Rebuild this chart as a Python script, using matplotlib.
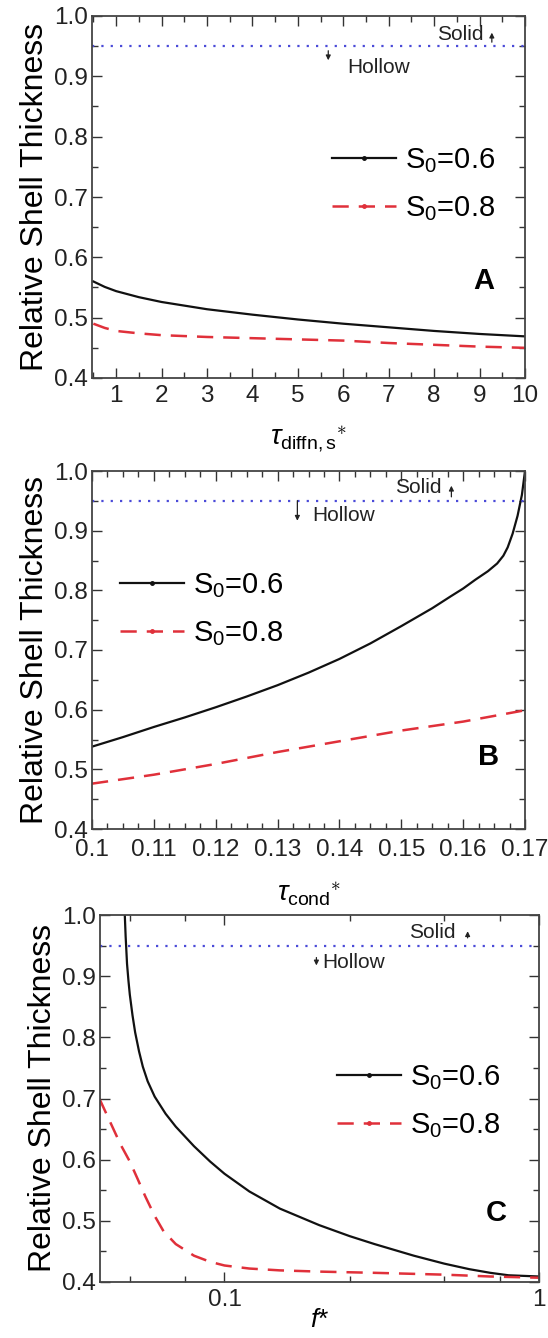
import matplotlib
matplotlib.use("Agg")
import matplotlib.pyplot as plt
from matplotlib.ticker import MultipleLocator, FixedLocator, FixedFormatter, NullFormatter

plt.rcParams['font.family'] = ['Liberation Sans', 'DejaVu Sans']
plt.rcParams['mathtext.fontset'] = 'custom'
plt.rcParams['mathtext.rm'] = 'Liberation Sans'
plt.rcParams['mathtext.it'] = 'Liberation Sans:italic'
plt.rcParams['mathtext.bf'] = 'Liberation Sans:bold'

# ---- Panel A data ----
a_x = [0.5, 0.75, 1, 1.5, 2, 3, 4, 5, 6, 7, 8, 9, 10]
a_s06 = [0.560, 0.551, 0.544, 0.534, 0.526, 0.514, 0.505, 0.497, 0.490, 0.484, 0.478, 0.473, 0.469]
a_s08 = [0.490, 0.483, 0.478, 0.474, 0.471, 0.468, 0.466, 0.464, 0.462, 0.458, 0.455, 0.452, 0.450]

# ---- Panel B data ----
b_x06 = [0.100, 0.105, 0.110, 0.115, 0.120, 0.125, 0.130, 0.135, 0.140, 0.145, 0.150,
         0.155, 0.158, 0.160, 0.162, 0.164, 0.1655, 0.1665, 0.1672, 0.168, 0.1688, 0.1695, 0.170]
b_s06 = [0.538, 0.554, 0.571, 0.587, 0.604, 0.622, 0.641, 0.662, 0.685, 0.711, 0.740,
         0.770, 0.790, 0.803, 0.818, 0.832, 0.845, 0.858, 0.872, 0.895, 0.925, 0.960, 1.000]
b_x08 = [0.100, 0.110, 0.120, 0.130, 0.140, 0.150, 0.160, 0.170]
b_s08 = [0.476, 0.491, 0.509, 0.529, 0.547, 0.565, 0.580, 0.599]

# ---- Panel C data ----
c_x06 = [0.0482, 0.0485, 0.049, 0.0495, 0.050, 0.051, 0.052, 0.0535, 0.055, 0.057, 0.060, 0.065,
         0.070, 0.080, 0.090, 0.100, 0.120, 0.150, 0.200, 0.250, 0.300, 0.400, 0.500, 0.600,
         0.700, 0.800, 1.000]
c_s06 = [1.000, 0.965, 0.920, 0.893, 0.870, 0.836, 0.808, 0.777, 0.752, 0.728, 0.703, 0.675,
         0.654, 0.622, 0.597, 0.577, 0.548, 0.520, 0.493, 0.475, 0.462, 0.443, 0.430, 0.421,
         0.415, 0.411, 0.409]
c_x08 = [0.040, 0.043, 0.0467, 0.050, 0.053, 0.056, 0.060, 0.064, 0.070, 0.080, 0.090, 0.100,
         0.120, 0.150, 0.200, 0.300, 0.500, 0.700, 1.000]
c_s08 = [0.700, 0.665, 0.625, 0.597, 0.568, 0.540, 0.508, 0.483, 0.462, 0.443, 0.433, 0.427,
         0.422, 0.419, 0.417, 0.415, 0.412, 0.409, 0.407]

threshold = 0.95
labels = ["S$_0$=0.6", "S$_0$=0.8"]
y_label = "Relative Shell Thickness"

W, H = 548, 1338
fig = plt.figure(figsize=(W / 100, H / 100), dpi=100)

def fr(l, r, t, b):
    return [l / W, 1 - b / H, (r - l) / W, (b - t) / H]

axA = fig.add_axes(fr(92, 525, 16, 378))
axB = fig.add_axes(fr(92, 525, 471, 829))
axC = fig.add_axes(fr(100, 539, 915, 1282))

blue = '#4a4ad8'
red = '#e0303a'
dash = (0, (6.5, 4))

def style(ax):
    ax.set_ylim(0.4, 1.0)
    ax.yaxis.set_major_locator(MultipleLocator(0.1))
    ax.yaxis.set_minor_locator(MultipleLocator(0.05))
    ax.tick_params(which='both', direction='in', top=True, right=True,
                   labelsize=17.5, width=1.0, color='#333333', labelcolor='#222222')
    ax.tick_params(which='major', length=7)
    ax.tick_params(which='minor', length=4)
    ax.tick_params(axis='x', which='major', pad=5)
    ax.tick_params(axis='y', which='major', pad=3)
    for s in ax.spines.values():
        s.set_linewidth(1.3)
        s.set_color('#444444')
    ax.set_ylabel(y_label, fontsize=23, labelpad=3)
    ax.yaxis.set_major_formatter(plt.FuncFormatter(lambda v, p: f"{v:.1f}"))

def draw(ax, x6, y6, x8, y8, leg_xy):
    ax.plot(x6, y6, color='#111111', lw=1.6)
    ax.plot(x8, y8, color=red, lw=1.8, ls=dash)
    ax.axhline(threshold, color=blue, lw=1.6, ls=(0, (1, 3.2)))
    h1, = ax.plot([], [], color='#111111', lw=1.6, marker='o', ms=2.5)
    h2, = ax.plot([], [], color=red, lw=1.8, ls=dash, marker='o', ms=2.5)
    ax.legend([h1, h2], labels, loc='upper left', bbox_to_anchor=leg_xy,
              frameon=False, fontsize=21, handlelength=2.2, handletextpad=0.3,
              labelspacing=0.65, borderpad=0, borderaxespad=0, numpoints=1)

arrow_kw = dict(arrowstyle='-|>', color='#222222', lw=0.9, mutation_scale=7)

# Panel A
style(axA)
draw(axA, a_x, a_s06, a_x, a_s08, (0.555, 0.64))
axA.set_xlim(0.47, 10)
axA.xaxis.set_major_locator(MultipleLocator(1))
axA.xaxis.set_minor_locator(MultipleLocator(0.5))
axA.set_xlabel(r"$\tau_{\mathrm{diffn,s}}{}^{\ast}$", fontsize=20, labelpad=12)
axA.text(8.07, 0.969, "Solid", fontsize=15, va='center', ha='left', color='#222222')
axA.annotate("", xy=(9.27, 0.977), xytext=(9.27, 0.952), arrowprops=arrow_kw)
axA.text(6.09, 0.914, "Hollow", fontsize=15, va='center', ha='left', color='#222222')
axA.annotate("", xy=(5.67, 0.922), xytext=(5.67, 0.947), arrowprops=arrow_kw)
axA.text(0.905, 0.268, "A", transform=axA.transAxes, fontsize=21, fontweight='bold',
         ha='center', va='center')

# Panel B
style(axB)
axB.tick_params(axis='x', which='major', pad=7)
draw(axB, b_x06, b_s06, b_x08, b_s08, (0.065, 0.72))
axB.set_xlim(0.1, 0.17)
axB.xaxis.set_major_locator(MultipleLocator(0.01))
axB.xaxis.set_minor_locator(MultipleLocator(0.0025))
axB.xaxis.set_major_formatter(plt.FuncFormatter(lambda v, p: "0.1" if abs(v - 0.1) < 1e-9 else f"{v:.2f}"))
axB.set_xlabel(r"$\tau_{\mathrm{cond}}{}^{\ast}$", fontsize=20, labelpad=14)
axB.text(0.149, 0.973, "Solid", fontsize=15, va='center', ha='left', color='#222222')
axB.annotate("", xy=(0.1581, 0.98), xytext=(0.1581, 0.952), arrowprops=arrow_kw)
axB.text(0.1356, 0.926, "Hollow", fontsize=15, va='center', ha='left', color='#222222')
axB.annotate("", xy=(0.1332, 0.912), xytext=(0.1332, 0.955), arrowprops=arrow_kw)
axB.text(0.917, 0.20, "B", transform=axB.transAxes, fontsize=21, fontweight='bold',
         ha='center', va='center')

# Panel C
style(axC)
axC.set_xscale('log')
draw(axC, c_x06, c_s06, c_x08, c_s08, (0.54, 0.595))
axC.set_xlim(0.0402, 1.0)
axC.xaxis.set_major_locator(FixedLocator([0.1, 1]))
axC.xaxis.set_major_formatter(FixedFormatter(["0.1", "1"]))
axC.xaxis.set_minor_locator(FixedLocator([0.05, 0.075, 0.25, 0.5, 0.75]))
axC.xaxis.set_minor_formatter(NullFormatter())
axC.set_xlabel(r"$f$*", fontsize=19, labelpad=-2)
axC.text(0.385, 0.971, "Solid", fontsize=15, va='center', ha='left', color='#222222')
axC.annotate("", xy=(0.593, 0.978), xytext=(0.593, 0.958), arrowprops=arrow_kw)
axC.text(0.204, 0.923, "Hollow", fontsize=15, va='center', ha='left', color='#222222')
axC.annotate("", xy=(0.196, 0.913), xytext=(0.196, 0.935), arrowprops=arrow_kw)
axC.text(0.903, 0.188, "C", transform=axC.transAxes, fontsize=21, fontweight='bold',
         ha='center', va='center')

fig.savefig("out.png", dpi=100)
